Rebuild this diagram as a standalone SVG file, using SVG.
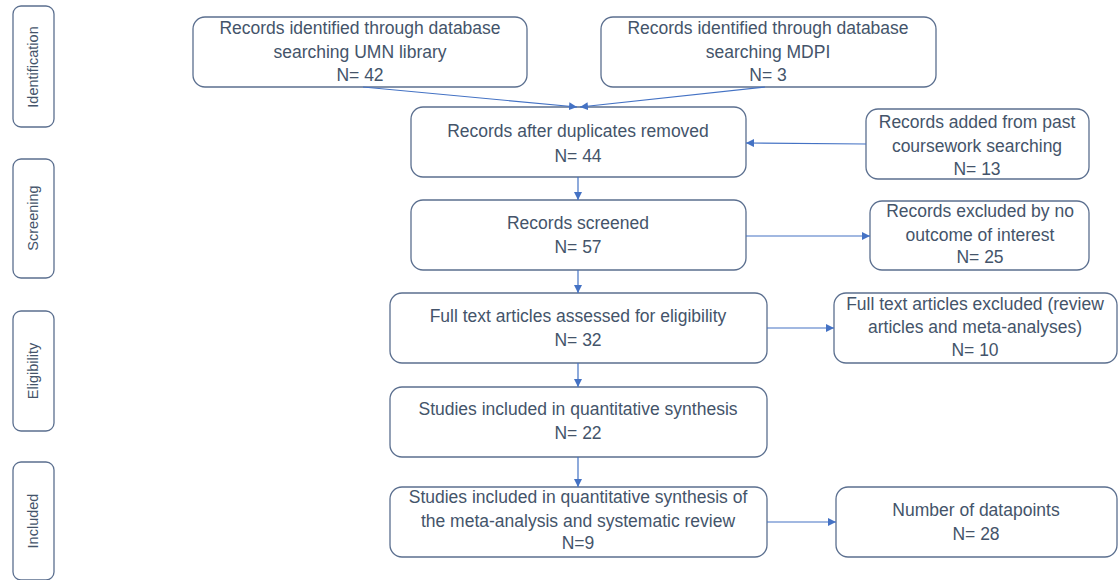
<svg xmlns="http://www.w3.org/2000/svg" width="1119" height="580" viewBox="0 0 1119 580">
<style>
.box{fill:#fff;stroke:#5b6f8f;stroke-width:1.3}
.t{font-family:"Liberation Sans",Arial,sans-serif;font-size:17.5px;fill:#44546a;text-anchor:middle}
.lab{font-family:"Liberation Sans",Arial,sans-serif;font-size:14.5px;fill:#44546a;text-anchor:middle}
.c{stroke:#4472c4;stroke-width:1.2;fill:none;marker-end:url(#ah)}
</style>
<defs>
<marker id="ah" viewBox="0 0 10 10" refX="10" refY="5" markerWidth="8" markerHeight="8" markerUnits="userSpaceOnUse" orient="auto">
<path d="M0,0 L10,5 L0,10 z" fill="#4472c4"/>
</marker>
</defs>
<rect width="1119" height="580" fill="#fff"/>
<g id="stage-identification"><rect class="box" x="13" y="6" width="41" height="121" rx="8"/><text class="lab" transform="translate(38,67) rotate(-90)">Identification</text></g>
<g id="stage-screening"><rect class="box" x="13" y="159" width="41" height="119" rx="8"/><text class="lab" transform="translate(38,218) rotate(-90)">Screening</text></g>
<g id="stage-eligibility"><rect class="box" x="13" y="311" width="41" height="120" rx="8"/><text class="lab" transform="translate(38,371) rotate(-90)">Eligibility</text></g>
<g id="stage-included"><rect class="box" x="13" y="462" width="41" height="118" rx="8"/><text class="lab" transform="translate(38,521) rotate(-90)">Included</text></g>

<g id="umn"><rect class="box" x="193" y="17" width="334" height="70" rx="12"/>
<text class="t" x="360" y="34">Records identified through database</text>
<text class="t" x="360" y="58">searching UMN library</text>
<text class="t" x="360" y="81">N= 42</text></g>
<g id="mdpi"><rect class="box" x="601" y="17" width="335" height="70" rx="12"/>
<text class="t" x="768" y="34">Records identified through database</text>
<text class="t" x="768" y="58">searching MDPI</text>
<text class="t" x="768" y="81">N= 3</text></g>
<g id="dupes"><rect class="box" x="411" y="107" width="335" height="70" rx="12"/>
<text class="t" x="578" y="137">Records after duplicates removed</text>
<text class="t" x="578" y="162">N= 44</text></g>
<g id="coursework"><rect class="box" x="866" y="109" width="223" height="70" rx="12"/>
<text class="t" x="977" y="128">Records added from past</text>
<text class="t" x="977" y="152">coursework searching</text>
<text class="t" x="977" y="175">N= 13</text></g>
<g id="screened"><rect class="box" x="411" y="200" width="335" height="70" rx="12"/>
<text class="t" x="578" y="229">Records screened</text>
<text class="t" x="578" y="253">N= 57</text></g>
<g id="excluded"><rect class="box" x="870" y="201" width="219" height="69" rx="12"/>
<text class="t" x="980" y="217">Records excluded by no</text>
<text class="t" x="980" y="241">outcome of interest</text>
<text class="t" x="980" y="263">N= 25</text></g>
<g id="fulltext"><rect class="box" x="390" y="293" width="377" height="70" rx="12"/>
<text class="t" x="578" y="322">Full text articles assessed for eligibility</text>
<text class="t" x="578" y="346">N= 32</text></g>
<g id="ft-excluded"><rect class="box" x="834" y="293" width="283" height="70" rx="12"/>
<text class="t" x="975" y="310">Full text articles excluded (review</text>
<text class="t" x="975" y="333">articles and meta-analyses)</text>
<text class="t" x="975" y="356">N= 10</text></g>
<g id="studies22"><rect class="box" x="390" y="387" width="377" height="70" rx="12"/>
<text class="t" x="578" y="415">Studies included in quantitative synthesis</text>
<text class="t" x="578" y="439">N= 22</text></g>
<g id="studies9"><rect class="box" x="390" y="487" width="377" height="70" rx="12"/>
<text class="t" x="578" y="503">Studies included in quantitative synthesis of</text>
<text class="t" x="578" y="527">the meta-analysis and systematic review</text>
<text class="t" x="578" y="549">N=9</text></g>
<g id="datapoints"><rect class="box" x="836" y="487" width="281" height="70" rx="12"/>
<text class="t" x="976" y="516">Number of datapoints</text>
<text class="t" x="976" y="540">N= 28</text></g>

<g id="connectors">
<line class="c" x1="363" y1="87" x2="577" y2="107"/>
<line class="c" x1="765" y1="87" x2="580" y2="107"/>
<line class="c" x1="866" y1="144" x2="746" y2="143"/>
<line class="c" x1="578" y1="177" x2="578" y2="200"/>
<line class="c" x1="746" y1="236" x2="870" y2="236"/>
<line class="c" x1="578" y1="270" x2="578" y2="293"/>
<line class="c" x1="767" y1="328" x2="834" y2="328"/>
<line class="c" x1="578" y1="363" x2="578" y2="387"/>
<line class="c" x1="578" y1="457" x2="578" y2="487"/>
<line class="c" x1="767" y1="522" x2="836" y2="522"/>
</g>
</svg>
